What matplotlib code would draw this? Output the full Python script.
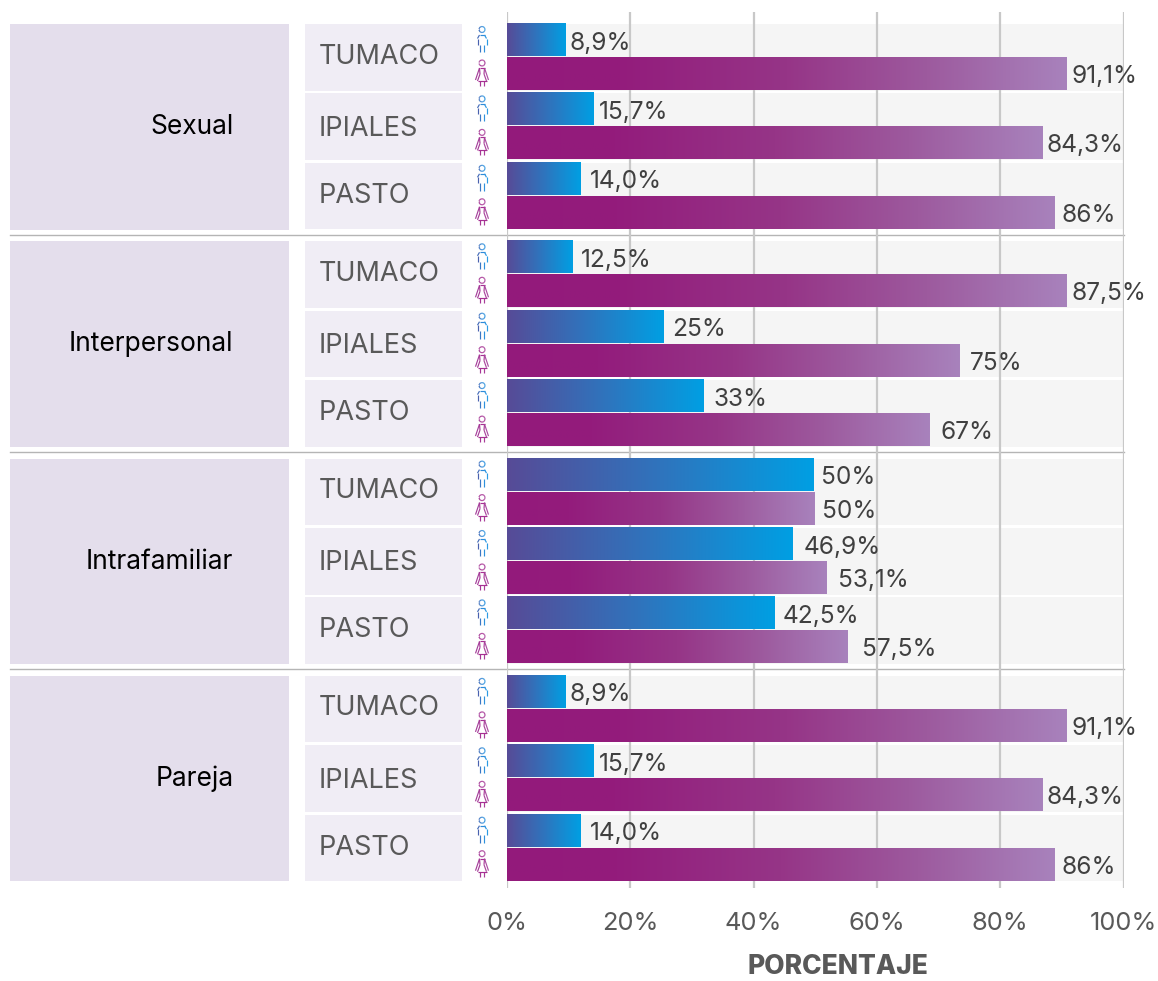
import numpy as np
import matplotlib.pyplot as plt
from matplotlib.collections import LineCollection
from matplotlib.colors import LinearSegmentedColormap
from matplotlib.patches import Rectangle

plt.rcParams['font.family'] = ['Inter', 'DejaVu Sans']

# datos
grupos = ['Sexual', 'Interpersonal', 'Intrafamiliar', 'Pareja']
ciudades = ['TUMACO', 'IPIALES', 'PASTO']
hombres = [9.5, 14.1, 12.0, 10.7, 25.4, 31.9, 49.7, 46.3, 43.4, 9.5, 14.1, 12.0]
mujeres = [90.8, 86.9, 88.8, 90.8, 73.4, 68.6, 49.8, 51.9, 55.3, 90.8, 86.9, 88.8]
etiq_hombres = ['8,9%', '15,7%', '14,0%', '12,5%', '25%', '33%', '50%', '46,9%', '42,5%', '8,9%', '15,7%', '14,0%']
etiq_mujeres = ['91,1%', '84,3%', '86%', '87,5%', '75%', '67%', '50%', '53,1%', '57,5%', '91,1%', '84,3%', '86%']
ticks = [0, 20, 40, 60, 80, 100]
tick_labels = ['0%', '20%', '40%', '60%', '80%', '100%']

# separacion barra-etiqueta en pixeles (no es constante en el original)
gap_h = [4, 5, 9, 8, 9, 10, 8, 11, 8, 4, 5, 9]
gap_m = [5, 4, 7, 5, 10, 11, 8, 11, 14, 5, 4, 7]

W, H = 1158, 981
X0, X1 = 507, 1123.5
Y0, Y1 = 12, 888
PASO_GRUPO = 217.3
PASO_CIUDAD = 69.4
ALTO = 33
TOP = 23.5
TEXTO = '#595959'

cmap_h = LinearSegmentedColormap.from_list('h', ['#574b97', '#2f74bd', '#009fe3'])
cmap_m = LinearSegmentedColormap.from_list('m', [(0, '#931a7b'), (0.2, '#931c7c'), (0.5, '#963587'),
                                                 (0.75, '#9d5a9e'), (1, '#a882bc')])
cmap_icono_h = LinearSegmentedColormap.from_list('ih', ['#574b97', '#2f8ad8', '#2aa4ea'])
cmap_icono_m = LinearSegmentedColormap.from_list('im', ['#a5489f', '#a62f92', '#b060ac'])
grad = np.linspace(0, 1, 256).reshape(1, -1)


def icono_hombre(bg, cx, y):
    t = np.linspace(0, 2 * np.pi, 20)
    lineas = [np.c_[cx + 3 * np.cos(t), y + 3 * np.sin(t)],
              [(cx - 2, y + 15), (cx - 2, y + 22.5)], [(cx + 2, y + 15), (cx + 2, y + 22.5)],
              [(cx - 4.5, y + 15), (cx - 4.5, y + 9), (cx - 2.5, y + 5.5), (cx + 2.5, y + 5.5),
               (cx + 4.5, y + 9), (cx + 4.5, y + 15)]]
    dibuja_icono(bg, lineas, cmap_icono_h, cx)


def icono_mujer(bg, cx, y):
    t = np.linspace(0, 2 * np.pi, 20)
    lineas = [np.c_[cx + 3 * np.cos(t), y + 3 * np.sin(t)],
              [(cx - 2, y + 18), (cx - 2, y + 23)], [(cx + 2, y + 18), (cx + 2, y + 23)],
              [(cx - 2.5, y + 5), (cx + 2.5, y + 5)],
              [(cx - 2.5, y + 5), (cx - 6.5, y + 17)], [(cx + 2.5, y + 5), (cx + 6.5, y + 17)],
              [(cx - 2.5, y + 5), (cx - 2, y + 11), (cx - 4.5, y + 18), (cx + 4.5, y + 18),
               (cx + 2, y + 11), (cx + 2.5, y + 5)]]
    dibuja_icono(bg, lineas, cmap_icono_m, cx)


def dibuja_icono(bg, lineas, cmap, cx):
    segs = []
    vals = []
    for lin in lineas:
        lin = np.asarray(lin)
        for a, b in zip(lin[:-1], lin[1:]):
            segs.append([a, b])
            vals.append(((a[0] + b[0]) / 2 - cx + 7) / 14)
    bg.add_collection(LineCollection(segs, array=np.array(vals), cmap=cmap, clim=(0, 1), linewidths=0.85))


fig = plt.figure(figsize=(W / 100, H / 100), dpi=100)

# capa de fondo en pixeles para cajas, separadores e iconos
bg = fig.add_axes([0, 0, 1, 1], zorder=0)
bg.set_xlim(0, W)
bg.set_ylim(H, 0)
bg.axis('off')

ax = fig.add_axes([X0 / W, 1 - Y1 / H, (X1 - X0) / W, (Y1 - Y0) / H], zorder=1)
ax.patch.set_alpha(0)

for g, grupo in enumerate(grupos):
    top = 24 + PASO_GRUPO * g
    bg.add_patch(Rectangle((10, top), 279, 205.5, fc='#e4deec', ec='none'))
    bg.text(233.5, top + 103, grupo, ha='right', va='center', fontsize=19, color='black')
    if g > 0:
        bg.plot([10, X1], [top - 6.5, top - 6.5], color='#b5b5b5', lw=1.0)
    for c, ciudad in enumerate(ciudades):
        y = top + PASO_CIUDAD * c
        bg.add_patch(Rectangle((305, y), 157, 66.5, fc='#f0edf5', ec='none'))
        bg.add_patch(Rectangle((X0, y), X1 - X0, 66.5, fc='#f5f5f5', ec='none'))
        bg.text(319, y + (32.5, 35.5, 33)[c], ciudad, ha='left', va='center', fontsize=19.5, color=TEXTO)
        icono_hombre(bg, 482, y + 5.5)
        icono_mujer(bg, 482, y + 39)

        i = g * 3 + c
        yb = TOP + PASO_GRUPO * g + PASO_CIUDAD * c
        ax.imshow(grad, extent=(0, hombres[i], yb + ALTO - 0.5, yb), cmap=cmap_h, aspect='auto', zorder=3)
        ax.imshow(grad, extent=(0, mujeres[i], yb + ALTO * 2 + 0.5, yb + ALTO + 1), cmap=cmap_m, aspect='auto', zorder=3)
        ax.annotate(etiq_hombres[i], (hombres[i], yb + ALTO / 2 + 3), xytext=(gap_h[i] * 0.72, 0),
                    textcoords='offset points', ha='left', va='center', fontsize=17.6, color='#404040', zorder=4)
        ax.annotate(etiq_mujeres[i], (mujeres[i], yb + ALTO * 1.5 + 3.5), xytext=(gap_m[i] * 0.72, 0),
                    textcoords='offset points', ha='left', va='center', fontsize=17.6, color='#404040', zorder=4)

ax.set_xlim(0, 100)
ax.set_ylim(Y1, Y0)
ax.set_yticks([])
ax.set_xticks(ticks)
ax.set_xticklabels(tick_labels, fontsize=18.3, color=TEXTO)
ax.tick_params(axis='x', length=0, pad=17)
ax.grid(axis='x', color='#c8c8c8', lw=1.6, zorder=1)
ax.set_axisbelow(True)
for s in ax.spines.values():
    s.set_visible(False)

bg.text(837.5, 967.5, 'PORCENTAJE', ha='center', va='center', fontsize=19, fontweight='heavy', color=TEXTO)

fig.savefig('out.png', dpi=100)
